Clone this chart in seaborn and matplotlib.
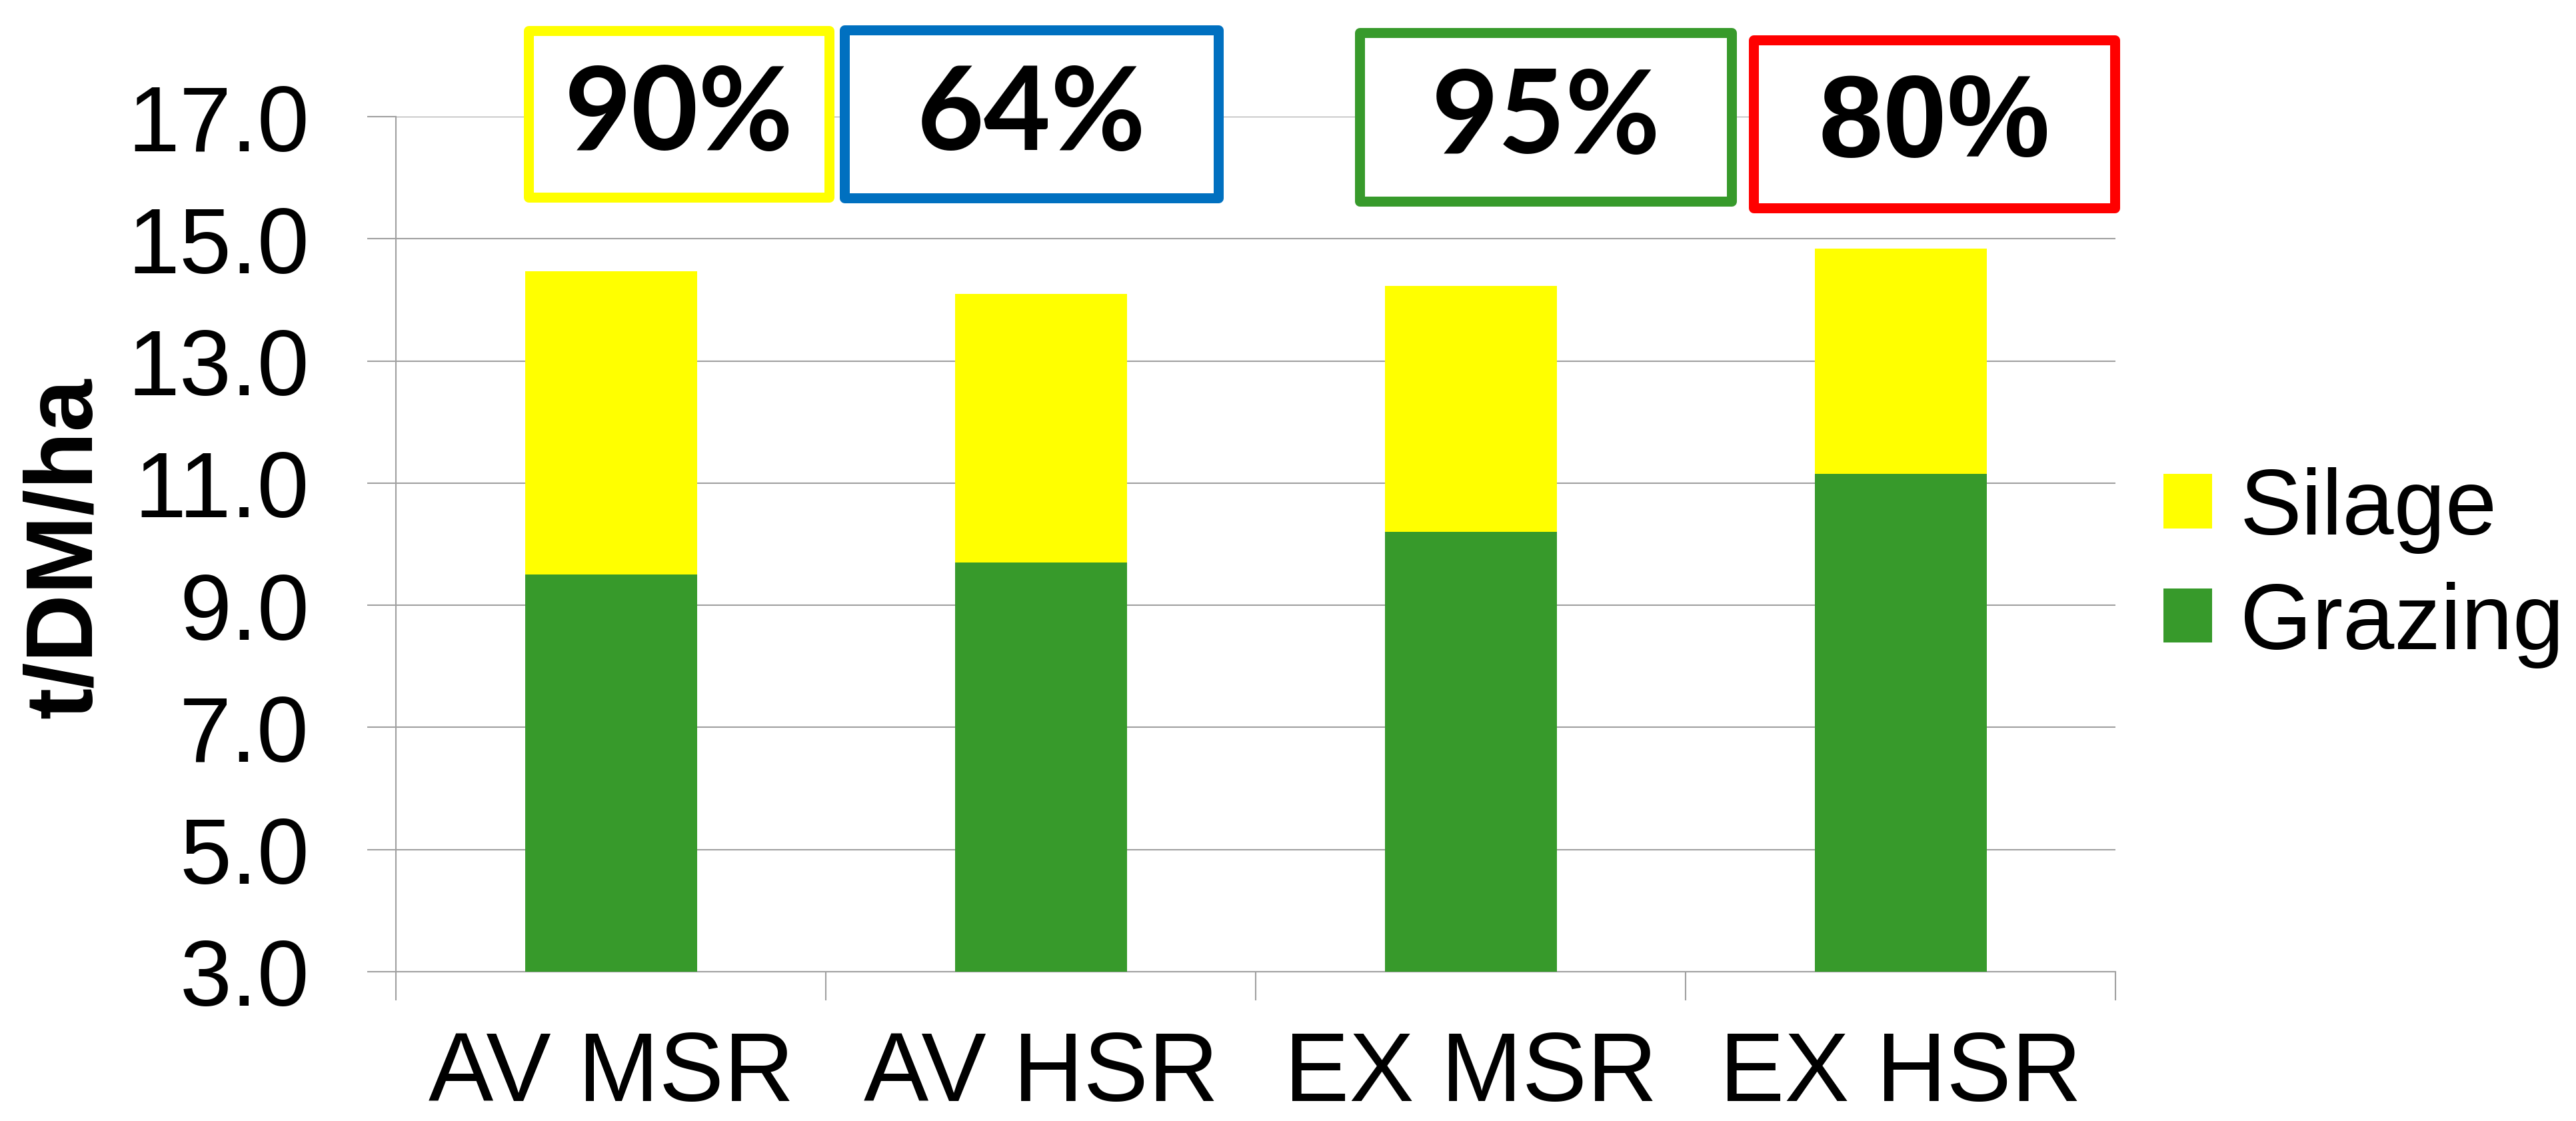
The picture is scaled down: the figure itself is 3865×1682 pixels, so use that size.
import numpy as np
import pandas as pd
import matplotlib.pyplot as plt
import seaborn as sns
from matplotlib.patches import Rectangle
from matplotlib.ticker import FormatStrFormatter

# ── data ─────────────────────────────────────────────────────────────────────
categories = ["AV MSR", "AV HSR", "EX MSR", "EX HSR"]
grazing    = [9.5, 9.7, 10.2, 11.15]
silage     = [4.97, 4.4, 4.03, 3.69]
box_labels = ["90%", "64%", "95%", "80%"]

YELLOW = "#FFFF00"
GREEN  = "#379A2B"
GRID   = "#A0A0A0"
box_colors = [YELLOW, "#0070C0", GREEN, "#FF0000"]
box_fonts  = ["Lato", "Lato", "Lato", "Liberation Sans"]

df = pd.DataFrame({"scenario": categories, "Grazing": grazing, "Silage": silage})
df["total"] = df["Grazing"] + df["Silage"]

# ── figure ───────────────────────────────────────────────────────────────────
W, H = 3866, 1683
sns.set_style("white")
plt.rcParams["font.family"] = ["Liberation Sans", "DejaVu Sans"]
plt.rcParams["text.color"] = "black"
plt.rcParams["xtick.labelcolor"] = "black"
plt.rcParams["ytick.labelcolor"] = "black"

fig = plt.figure(figsize=(W / 100, H / 100), dpi=100)
ax = fig.add_axes([594.5 / W, 1 - 1459 / H, 2580 / W, (1459 - 176.2) / H])

sns.barplot(data=df, x="scenario", y="total", color=YELLOW, saturation=1,
            width=0.4, linewidth=0, label="Silage", ax=ax, zorder=3)
sns.barplot(data=df, x="scenario", y="Grazing", color=GREEN, saturation=1,
            width=0.4, linewidth=0, label="Grazing", ax=ax, zorder=3)

ax.set_ylim(3, 17)
ax.set_xlim(-0.5, 3.5)
ax.set_yticks(np.arange(3, 17.1, 2))
ax.yaxis.set_major_formatter(FormatStrFormatter("%.1f"))
ax.set_xticks(np.arange(-0.5, 3.6, 1), minor=True)
ax.set_xlabel("")
ax.set_ylabel("")

ax.yaxis.grid(True, color=GRID, linewidth=1.5, zorder=0)
ax.xaxis.grid(False)
ax.set_axisbelow(True)
for s in ["top", "right"]:
    ax.spines[s].set_visible(False)
for s in ["left", "bottom"]:
    ax.spines[s].set_color(GRID)
    ax.spines[s].set_linewidth(1.5)

ax.tick_params(axis="y", length=31, width=1.5, color=GRID, pad=63,
               labelsize=101, left=True, labelcolor="black")
ax.tick_params(axis="x", which="major", length=0, pad=63, labelsize=105,
               labelcolor="black")
ax.tick_params(axis="x", which="minor", length=31, width=1.5, color=GRID,
               bottom=True)

fig.text(100 / W, 1 - 822 / H, "t/DM/ha", rotation=90, ha="center",
         va="center", fontsize=102, fontweight="bold", color="black")

# legend
handles, labels = ax.get_legend_handles_labels()
leg = ax.legend(handles, labels, loc="center left",
                bbox_to_anchor=(3246 / W, 1 - 852 / H),
                bbox_transform=fig.transFigure, frameon=False, fontsize=100,
                handlelength=0.525, handleheight=0.525, handletextpad=0.3,
                labelspacing=0.3, borderpad=0, borderaxespad=0)
for t in leg.get_texts():
    t.set_color("black")

# ── percentage boxes (pixel layout: left, top, right, bottom) ───────────────
boxes = [(793.5, 46.5, 1244.5, 296.5),
         (1267.5, 45.5, 1827.5, 297.5),
         (2040.5, 50, 2598.5, 302.5),
         (2631.5, 60.5, 3173.5, 312.5)]
for (l, t, r, b), txt, col, fam in zip(boxes, box_labels, box_colors, box_fonts):
    rect = Rectangle((l / W, 1 - b / H), (r - l) / W, (b - t) / H,
                     transform=fig.transFigure, facecolor="white",
                     edgecolor=col, linewidth=10.8, joinstyle="round", zorder=5)
    fig.add_artist(rect)
    fig.text((l + r) / 2 / W, 1 - ((t + b) / 2 + 3) / H, txt, ha="center",
             va="center", fontsize=125, fontweight="bold", color="black",
             family=[fam, "DejaVu Sans"], zorder=6)

fig.savefig("out.png", dpi=100)
